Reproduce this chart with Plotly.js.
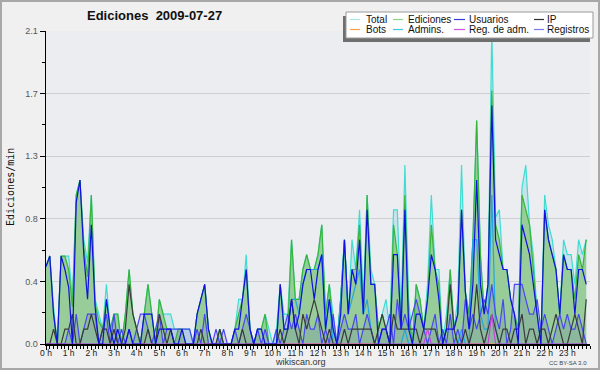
<!DOCTYPE html>
<html>
<head>
<meta charset="utf-8">
<script src="https://cdn.plot.ly/plotly-3.0.1.min.js"></script>
<style>
html,body{margin:0;padding:0;background:#f0f0f0;}
#chart{width:600px;height:370px;}
</style>
</head>
<body>
<div id="chart"></div>
<script>
// ---- data: edits per minute, one value every 10 minutes (144 points) ----
const hourLabels = ["0 h","1 h","2 h","3 h","4 h","5 h","6 h","7 h","8 h","9 h","10 h","11 h",
  "12 h","13 h","14 h","15 h","16 h","17 h","18 h","19 h","20 h","21 h","22 h","23 h"];
const hourTicks = [0,1,2,3,4,5,6,7,8,9,10,11,12,13,14,15,16,17,18,19,20,21,22,23];
const yTickVals = [0, 0.42, 0.84, 1.26, 1.68, 2.1];
const yTickText = ["0.0","0.4","0.8","1.3","1.7","2.1"];

const seriesNames = ["Total","Ediciones","Usuarios","IP","Bots","Admins.","Reg. de adm.","Registros"];

const total = [
 .52,.59,.25,0,.59,.59,  .59,.3,1.0,1.1,.7,.55,  1.0,.3,.2,.1,.4,.1,  .2,.2,0,.2,.5,.2,
 .1,0,.2,.4,.2,0,  .3,.2,.2,.2,.1,.1,  .1,.1,.1,0,.2,.3,  .4,.1,0,0,.1,0,
 0,0,.1,.3,.3,.6,  .1,0,.1,.1,.2,.1,  0,.1,.4,.2,.2,.7,  .3,.3,.5,.6,.5,.5,
 .6,.8,.2,.4,.2,0,  .3,.7,.2,.7,.5,.9,  .3,1.0,.5,.4,.1,.2,  .3,.1,.9,.9,.2,1.2,
 .3,0,.4,.3,.1,.4,  1.0,.5,.5,0,.2,.5,  .1,.3,1.2,.35,.2,.7,  1.5,.6,.2,.4,2.1,.85,
 .9,.5,.5,.3,.2,.1,  1.05,1.2,.8,.6,.2,0,  1.0,.8,.7,.5,.2,.7,  .6,.6,.4,.7,.6,.7];

const ediciones = [
 .52,.59,.2,0,.59,.59,  .5,.25,1.0,1.1,.65,.45,  1.0,.27,.15,.1,.3,.1,  .2,.2,0,.2,.5,.2,
 .1,0,.2,.4,.2,0,  .3,.2,.1,.1,0,.1,  .1,0,0,0,.2,.3,  .4,.1,0,0,.1,0,
 0,0,.1,.2,.3,.5,  .1,0,.1,.1,.2,0,  0,0,.4,.1,.1,.7,  .3,.3,.5,.6,.5,.5,
 .6,.8,.2,.4,.1,0,  .3,.7,.2,.5,.5,.8,  .2,1.0,.4,.4,.1,.2,  .1,0,.8,.6,.1,1.0,
 .2,0,.4,.3,.1,.3,  .8,.5,.4,0,.1,.5,  .1,.2,.9,.35,.2,.7,  1.5,.6,.2,.4,1.7,.8,
 .7,.5,.5,.3,.2,.1,  1.0,.9,.8,.5,.2,0,  .9,.7,.6,.5,.2,.6,  .5,.5,.3,.6,.5,.7];

const usuarios = [
 .52,.59,.2,0,.59,.5,  .38,0,.95,1.1,.6,.3,  .8,.25,0,0,.3,.1,  0,.1,0,0,.1,0,
 0,0,.2,.2,.2,0,  .1,.1,.1,.1,0,0,  .1,0,0,0,.2,.3,  .4,.1,0,0,0,0,
 0,0,.1,.1,.3,.5,  .1,0,.1,.1,0,0,  0,0,.4,.1,.1,.3,  .1,.2,.4,.5,.5,.3,
 .5,.6,.1,.3,.1,0,  .2,.7,.2,.5,.4,.7,  .2,.9,.4,.4,0,.1,  .1,0,.6,.6,.1,.9,
 .1,0,.2,.2,.1,.3,  .6,.5,.3,0,.1,.1,  .1,.2,.9,.35,.1,.4,  1.1,.4,.2,.4,1.6,.7,
 .6,.5,.5,.3,.2,0,  .8,.7,.6,.4,.2,0,  .9,.7,.6,.5,.2,.6,  .5,.5,.2,.5,.5,.4];

const ip = [
 0,0,.1,0,0,.1,  .1,.2,0,0,.1,.1,  .2,.1,0,.1,.1,0,  .1,0,0,.1,.4,.2,
 .1,0,0,.1,0,0,  .2,.1,0,.1,0,0,  0,0,0,0,0,.1,  0,0,0,0,.1,0,
 0,0,0,0,.1,0,  0,0,0,0,0,0,  0,0,.1,0,.1,.3,  .1,0,.2,.1,.2,.3,
 .2,.1,0,.1,0,0,  0,.1,0,.1,.1,.1,  .1,.1,.1,0,.1,.2,  .1,0,.2,.1,.1,.1,
 .1,.1,.1,0,.1,.1,  .1,.1,0,0,.1,.4,  .1,0,0,.1,0,.1,  .4,.1,0,.1,.2,.1,
 0,.1,.1,0,.1,.1,  .2,0,.1,.1,0,.1,  .1,0,.1,.2,.1,0,  0,.1,.2,.1,0,.3];

const bots = new Array(144).fill(0);

const admins = [
 0,0,0,0,0,0,  0,0,0,0,0,0,  0,0,0,0,0,0,  0,0,0,0,0,0,
 0,0,0,0,0,0,  0,0,0,0,0,0,  0,0,0,0,0,0,  0,0,0,0,0,0,
 0,0,0,0,0,0,  0,0,0,0,0,0,  0,0,0,0,.1,.3,  .3,.2,.4,.5,.5,.5,
 .5,.6,.1,.3,0,0,  .3,.7,.2,.3,.4,.5,  .2,.3,.1,0,0,0,  0,0,0,0,0,.1,
 0,0,0,0,0,0,  0,0,0,0,0,0,  0,0,.1,0,0,.7,  .7,.2,.1,.1,1.0,.1,
 0,0,0,0,0,0,  0,0,0,0,0,0,  0,0,0,0,0,0,  0,0,0,0,0,0];

const regAdm = [
 0,0,0,0,0,0,  0,0,0,0,0,0,  0,0,0,0,0,0,  0,0,0,0,0,0,
 0,0,0,0,0,0,  0,0,0,0,0,0,  0,0,0,0,0,0,  0,0,0,0,0,0,
 0,0,0,0,0,0,  0,0,0,0,0,0,  0,0,0,0,0,0,  0,0,0,0,0,0,
 0,0,0,0,0,0,  0,0,0,0,0,0,  0,0,0,0,0,0,  0,0,0,0,0,0,
 0,0,0,0,0,.1,  0,0,0,0,0,0,  0,0,0,0,0,0,  0,0,0,0,.2,0,
 0,0,0,0,0,0,  0,0,0,0,0,0,  0,0,0,0,0,0,  0,0,0,0,0,0];

const registros = [
 0,0,0,0,0,0,  .1,0,.2,0,.1,.2,  .2,.2,0,.1,.2,0,  .2,0,.1,0,.1,0,
 .1,.2,.2,.1,0,.1,  .2,0,.1,.1,.1,.1,  .1,.1,.1,0,.1,0,  .2,0,0,.1,0,.1,
 0,0,.1,0,.1,.2,  .1,0,.1,0,.1,0,  0,.1,0,.1,.2,.1,  .2,.1,0,.2,.1,.1,
 .2,0,.1,0,.2,0,  .1,.2,.1,.1,.2,0,  .1,.2,.1,0,0,.1,  .1,.2,0,.3,.1,.2,
 .1,.2,.3,.2,.1,0,  .1,.2,0,.1,0,.2,  0,.1,0,.3,.1,.2,  .1,.2,.3,.2,.4,.2,
 .1,.3,0,.1,.4,.4,  .4,.3,.2,.2,.3,.1,  .2,.1,0,.1,.2,.1,  .2,.1,.1,.2,.1,0];

// ---- styles ----
const style = {
  totalLine: '#3fdcd2', totalFill: '#c6e3ec',
  edLine: '#38b438', edFill: '#98cc98',
  usu: '#1010e0', ip: '#3a3a3a', bots: '#ffa040', admins: '#22a6e0',
  regAdm: '#c844e0', reg: '#4848f0', regFill: 'rgba(70,70,190,0.14)'
};
const legendColors = ['#a6e6e0','#8cd48c','#3a3ae0','#303030','#ffa040','#40c8e0','#d050e0','#7878f0'];

const base = {x0: 0, dx: 1/6, type: 'scatter', mode: 'lines', hoverinfo: 'skip', showlegend: false};
function fillTrace(y, color) {
  return Object.assign({}, base, {y: y, fill: 'tozeroy', fillcolor: color, line: {width: 0, color: color}});
}
function lineTrace(y, color, name) {
  return Object.assign({}, base, {y: y, name: name, line: {width: 1.2, color: color}});
}

const traces = [
  fillTrace(total, style.totalFill),
  fillTrace(ediciones, style.edFill),
  fillTrace(registros, style.regFill),
  lineTrace(total, style.totalLine, seriesNames[0]),
  lineTrace(ediciones, style.edLine, seriesNames[1]),
  lineTrace(bots, style.bots, seriesNames[4]),
  lineTrace(admins, style.admins, seriesNames[5]),
  lineTrace(registros, style.reg, seriesNames[7]),
  lineTrace(ip, style.ip, seriesNames[3]),
  lineTrace(regAdm, style.regAdm, seriesNames[6]),
  lineTrace(usuarios, style.usu, seriesNames[2])
];

// pixel -> paper helpers (plot area: x 46..590, y 31..344)
const L = 46, R = 590, T = 31, B = 344;
const px = x => (x - L) / (R - L);
const py = y => (B - y) / (B - T);

const shapes = [];
const annotations = [];

// outer border
shapes.push({type: 'rect', xref: 'paper', yref: 'paper', x0: px(1), x1: px(599), y0: py(1), y1: py(369),
  line: {color: '#a8a8a8', width: 2}, fillcolor: 'rgba(0,0,0,0)', layer: 'above'});

// legend box with shadow
shapes.push({type: 'rect', xref: 'paper', yref: 'paper', x0: px(343), x1: px(590), y0: py(16), y1: py(42),
  line: {width: 0}, fillcolor: '#6e6e6e', layer: 'above'});
shapes.push({type: 'rect', xref: 'paper', yref: 'paper', x0: px(346), x1: px(593), y0: py(12), y1: py(38),
  line: {color: '#9a9a9a', width: 1}, fillcolor: '#ffffff', layer: 'above'});

const colSw = [[350, 360], [393, 403], [454, 465], [534, 544]];
const colTx = [365, 407, 468, 546];
const rowY = [19.5, 29.5];
seriesNames.forEach((nm, k) => {
  const r = Math.floor(k / 4), c = k % 4;
  shapes.push({type: 'line', xref: 'paper', yref: 'paper', x0: px(colSw[c][0]), x1: px(colSw[c][1]),
    y0: py(rowY[r]), y1: py(rowY[r]), line: {color: legendColors[k], width: 1.2}, layer: 'above'});
  annotations.push({xref: 'paper', yref: 'paper', x: px(colTx[c]), y: py(rowY[r]), xanchor: 'left', yanchor: 'middle',
    text: nm, showarrow: false, font: {family: 'Liberation Sans, Arial, sans-serif', size: 10, color: '#111'}, borderpad: 0});
});

// title
annotations.push({xref: 'paper', yref: 'paper', x: px(154), y: py(16), xanchor: 'center', yanchor: 'middle',
  text: '<b>Ediciones\u00a0 2009-07-27</b>', showarrow: false,
  font: {family: 'Liberation Sans, Arial, sans-serif', size: 13, color: '#111'}});
// y axis title
annotations.push({xref: 'paper', yref: 'paper', x: px(10), y: py(187), xanchor: 'center', yanchor: 'middle',
  text: 'Ediciones/min', textangle: -90, showarrow: false,
  font: {family: 'DejaVu Sans Mono, monospace', size: 10, color: '#111'}});
// footer
annotations.push({xref: 'paper', yref: 'paper', x: px(300), y: py(362), xanchor: 'center', yanchor: 'middle',
  text: 'wikiscan.org', showarrow: false, font: {family: 'Liberation Sans, Arial, sans-serif', size: 9, color: '#333'}});
annotations.push({xref: 'paper', yref: 'paper', x: px(589), y: py(363), xanchor: 'right', yanchor: 'middle',
  text: 'CC BY-SA 3.0', showarrow: false, font: {family: 'Liberation Sans, Arial, sans-serif', size: 6, color: '#444'}});

const layout = {
  width: 600, height: 370,
  margin: {l: L, r: 600 - R, t: T, b: 370 - B, pad: 0},
  paper_bgcolor: '#f0f0f0', plot_bgcolor: '#ecedf0',
  font: {family: 'Liberation Sans, Arial, sans-serif', size: 9, color: '#333'},
  showlegend: false,
  xaxis: {
    range: [0, 24], fixedrange: true, showgrid: false, zeroline: false,
    showline: true, linecolor: '#000', linewidth: 1.5,
    tickmode: 'array', tickvals: hourTicks, ticktext: hourLabels,
    ticks: 'outside', ticklen: 4, tickcolor: '#000', tickwidth: 1,
    ticklabelstandoff: -4,
    tickfont: {size: 8.5, color: '#222'},
    minor: {ticks: 'outside', tickmode: 'linear', tick0: 0, dtick: 1/6, ticklen: 3, tickcolor: '#000', showgrid: false}
  },
  yaxis: {
    range: [0, 2.1], fixedrange: true, showgrid: true, gridcolor: '#cfcfcf', gridwidth: 1, zeroline: false,
    showline: true, linecolor: '#000', linewidth: 1.5,
    tickmode: 'array', tickvals: yTickVals, ticktext: yTickText,
    ticks: 'outside', ticklen: 5, tickcolor: '#000', tickwidth: 1,
    tickfont: {size: 9, color: '#555'},
    minor: {ticks: 'outside', tickmode: 'linear', tick0: 0, dtick: 0.21, ticklen: 3, tickcolor: '#000', showgrid: false}
  },
  shapes: shapes,
  annotations: annotations
};

Plotly.newPlot('chart', traces, layout, {displayModeBar: false, staticPlot: true});
</script>
</body>
</html>
